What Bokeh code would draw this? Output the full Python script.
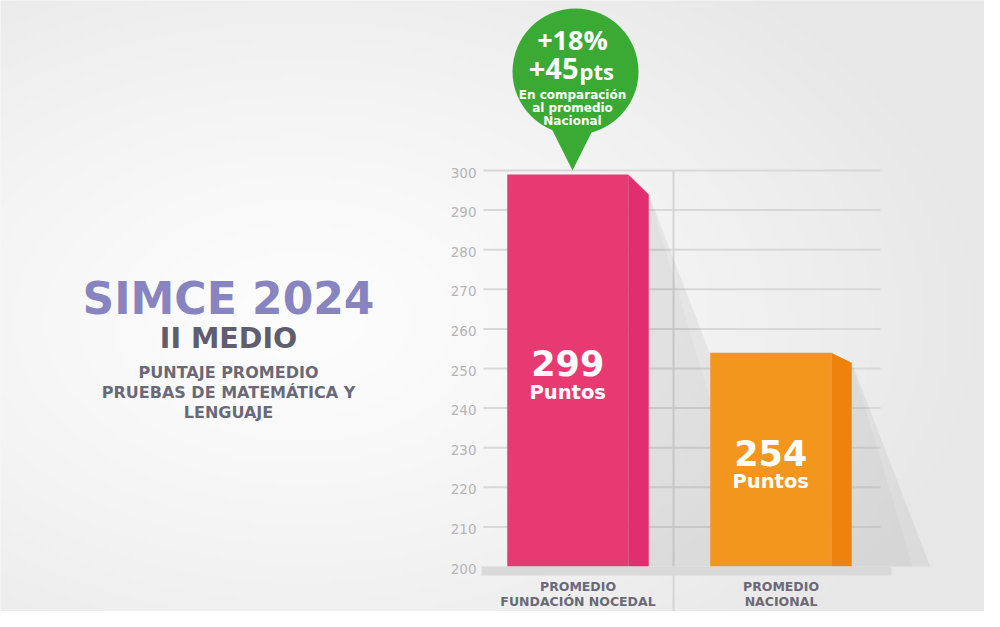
import numpy as np
from bokeh.plotting import figure
from bokeh.core.properties import value
from bokeh.embed import file_html
from bokeh.resources import INLINE

# ---------------- data ----------------
cat_line1 = ["PROMEDIO", "PROMEDIO"]
cat_line2 = ["FUNDACIÓN NOCEDAL", "NACIONAL"]
scores = [299, 254]
score_unit = "Puntos"
y_ticks = [200, 210, 220, 230, 240, 250, 260, 270, 280, 290, 300]
baseline = 200
title = "SIMCE 2024"
subtitle = "II MEDIO"
description = ["PUNTAJE PROMEDIO", "PRUEBAS DE MATEMÁTICA Y", "LENGUAJE"]
bubble_pct = "+18%"
bubble_pts = "+45"
bubble_pts_unit = "pts"
bubble_note = ["En comparación", "al promedio", "Nacional"]

# ---------------- styles ----------------
front_colors = ["#e83a72", "#f3961e"]
side_colors = ["#e02e6e", "#ee820c"]
side_slant_px = [20, 10]
green = "#3aaa35"
purple = "#8884c0"
dark = "#5f5e6e"
label_col = "#6a6978"
FONT = value("DejaVu Sans")
FONT2 = value("Open Sans")

# ---------------- geometry ----------------
W, H = 984, 611
PXY = 3.96      # px per score unit
PXX = 203.0     # px per category
Y0 = 566        # pixel row of baseline
C0 = 577.5      # pixel column of first category
Y_END = baseline + Y0 / PXY
Y_START = baseline - (H - Y0) / PXY
X_START = -C0 / PXX
X_END = (W - C0) / PXX


def X(px):  # pixel -> data x
    return X_START + px / PXX


def Y(py):  # pixel -> data y
    return Y_END - py / PXY


p = figure(width=W, height=H, x_range=(X_START, X_END), y_range=(Y_START, Y_END),
           output_backend="svg", toolbar_location=None, x_axis_type=None, y_axis_type=None,
           min_border=0, background_fill_color="#efefef", border_fill_color="#efefef")
p.grid.visible = False
p.outline_line_color = None

# background radial gradient
nx, ny = 250, 156
gx = np.linspace(0, W, nx)
gy = np.linspace(H, 0, ny)  # row 0 = bottom
GX, GY = np.meshgrid(gx, gy)
d = np.sqrt(((GX - 300) / 700) ** 2 + ((GY - 320) / 450) ** 2)
val = (253 - 22 * np.clip(d, 0, 1) ** 1.3).astype(np.uint32)
img = (255 << 24) | (val << 16) | (val << 8) | val
p.image_rgba(image=[img.astype(np.uint32)], x=X_START, y=Y_START,
             dw=X_END - X_START, dh=Y_END - Y_START)

# grid lines
grid_t = [t for t in y_ticks if t > baseline]
p.segment(x0=[X(483)] * len(grid_t), x1=[X(880)] * len(grid_t), y0=grid_t, y1=grid_t,
          line_color="#d8d8d8", line_width=2)
# divider
p.segment(x0=[X(673)], x1=[X(673)], y0=[Y(170)], y1=[Y(611)], line_color="#d6d6d6", line_width=2)

# tick labels
p.text(x=[X(476)] * len(y_ticks), y=y_ticks, text=[str(t) for t in y_ticks],
       text_align="right", text_baseline="middle", text_color="#b5b5b5",
       text_font=FONT, text_font_size="13.5px", y_offset=2)

# bars
idx = list(range(len(scores)))
fl = [i - 70.75 / PXX for i in idx]
fr = [i + 50.25 / PXX for i in idx]
sr = [i + 70.75 / PXX for i in idx]
side_top = [v - s / PXY for v, s in zip(scores, side_slant_px)]

# shadows
for i in idx:
    dy_px = (side_top[i] - baseline) * PXY
    for ratio, a in ((0.385, 0.05), (0.30, 0.02)):
        xe = sr[i] + ratio * dy_px / PXX
        p.patch(x=[sr[i], xe, sr[i]], y=[side_top[i], baseline, baseline],
                fill_color="#000000", fill_alpha=a, line_color=None)

for i in idx:
    p.quad(left=[fl[i]], right=[fr[i]], top=[scores[i]], bottom=[baseline],
           fill_color=front_colors[i], line_color=None)
    p.patch(x=[fr[i], sr[i], sr[i], fr[i]], y=[scores[i], side_top[i], baseline, baseline],
            fill_color=side_colors[i], line_color=None)

# base bar
p.quad(left=[X(481)], right=[X(891)], top=[baseline], bottom=[baseline - 9 / PXY],
       fill_color="#d9d9d9", line_color=None)

# value labels
mid = [(v + baseline) / 2 for v in scores]
p.text(x=[i - 10.25 / PXX for i in idx], y=mid, text=[str(v) for v in scores],
       text_align="center", text_baseline="middle", text_color="white",
       text_font=FONT, text_font_style="bold", text_font_size="35px", y_offset=-7)
p.text(x=[i - 10.25 / PXX for i in idx], y=mid, text=[score_unit] * len(scores),
       text_align="center", text_baseline="middle", text_color="white",
       text_font=FONT, text_font_style="bold", text_font_size="19.5px", y_offset=22)

# category labels
p.text(x=idx, y=[Y(586)] * 2, text=cat_line1, text_align="center", text_baseline="middle",
       text_color=label_col, text_font=FONT, text_font_style="bold", text_font_size="12.5px")
p.text(x=idx, y=[Y(601)] * 2, text=cat_line2, text_align="center", text_baseline="middle",
       text_color=label_col, text_font=FONT, text_font_style="bold", text_font_size="12.5px")

# title block
p.text(x=[X(228)], y=[Y(298)], text=[title], text_align="center", text_baseline="middle",
       text_color=purple, text_font=FONT, text_font_style="bold", text_font_size="44px")
p.text(x=[X(228)], y=[Y(338)], text=[subtitle], text_align="center", text_baseline="middle",
       text_color=dark, text_font=FONT, text_font_style="bold", text_font_size="28.5px")
p.text(x=[X(228)] * 3, y=[Y(372), Y(392), Y(412)], text=description, text_align="center",
       text_baseline="middle", text_color=label_col, text_font=FONT, text_font_style="bold",
       text_font_size="16px")

# bubble
p.patch(x=[X(546), X(598), X(572)], y=[Y(118), Y(118), Y(170)], fill_color=green, line_color=None)
p.scatter(x=[X(575)], y=[Y(71)], marker="circle", size=126, fill_color=green, line_color=None)
p.text(x=[X(572)], y=[Y(39)], text=[bubble_pct], text_align="center", text_baseline="middle",
       text_color="white", text_font=FONT2, text_font_style="bold", text_font_size="27px")
p.text(x=[X(578)], y=[Y(68)], text=[bubble_pts], text_align="right", text_baseline="middle",
       text_color="white", text_font=FONT2, text_font_style="bold", text_font_size="29px")
p.text(x=[X(579)], y=[Y(70)], text=[bubble_pts_unit], text_align="left", text_baseline="middle",
       text_color="white", text_font=FONT2, text_font_style="bold", text_font_size="22px")
p.text(x=[X(572)] * 3, y=[Y(94), Y(107), Y(120)], text=bubble_note, text_align="center",
       text_baseline="middle", text_color="white", text_font=FONT, text_font_style="bold",
       text_font_size="12px")

open("out.html", "w").write(file_html(p, INLINE))
